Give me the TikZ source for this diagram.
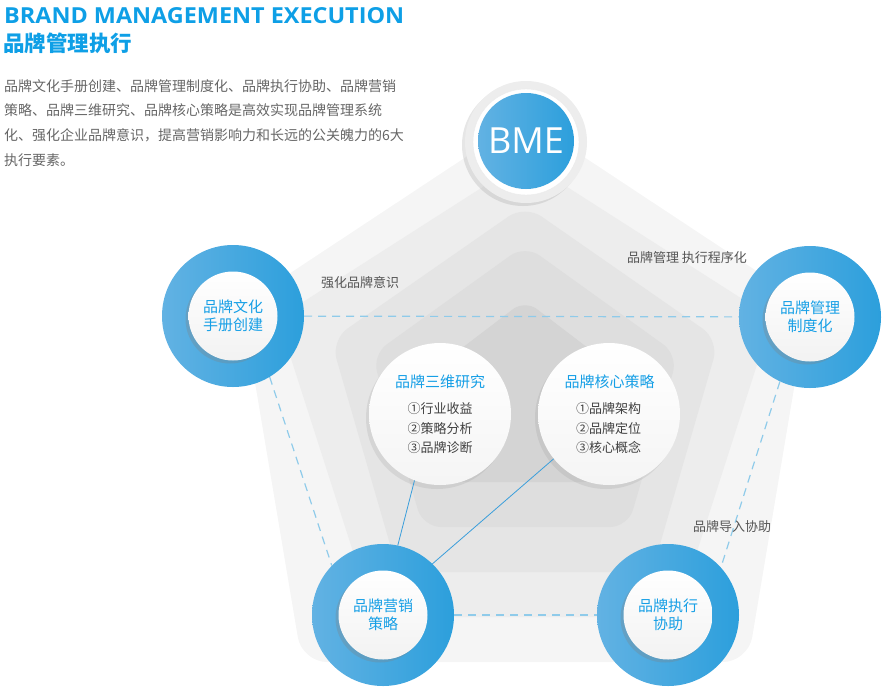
\documentclass[tikz,border=0pt]{standalone}
\usepackage{fontspec}
\usepackage{graphicx}
\setmainfont{Noto Sans CJK SC}
\newfontfamily\latin{Open Sans}
\usetikzlibrary{shadows}

\definecolor{titleblue}{HTML}{0E9FE6}
\definecolor{ringlight}{HTML}{62B2E3}
\definecolor{ringdark}{HTML}{2C9FDC}
\definecolor{txtblue}{HTML}{169FE6}
\definecolor{txtgray}{HTML}{555555}
\definecolor{dashblue}{HTML}{8FCBEA}
\definecolor{linkblue}{HTML}{3A9EDB}

\begin{document}
\begin{tikzpicture}
  [x=1pt,y=-1pt,
   ring/.style={circle,minimum size=142pt,inner sep=0pt,left color=ringlight,right color=ringdark},
   disc/.style={circle,minimum size=89pt,inner sep=0pt,top color=white,bottom color=black!5,
     drop shadow={shadow xshift=-3pt,shadow yshift=-3pt,opacity=.3},
     text=txtblue,align=center,font=\fontsize{15}{18}\selectfont},
   bigdisc/.style={circle,minimum size=142pt,inner sep=0pt,top color=white,bottom color=black!4,
     drop shadow={shadow xshift=-3pt,shadow yshift=-4pt,opacity=.15}},
   ititle/.style={inner sep=0pt,text=txtblue,font=\fontsize{15}{15}\selectfont},
   items/.style={inner sep=0pt,align=center,text=black!75,font=\fontsize{13}{19.5}\selectfont},
   note/.style={inner sep=0pt,text=txtgray,font=\fontsize{13}{13}\selectfont},
   para/.style={anchor=west,inner sep=0pt,text=black!60,font=\fontsize{14}{14}\selectfont},
   dashline/.style={dashblue,line width=1.2pt,dash pattern=on 8pt off 6pt},
   link/.style={linkblue,line width=.8pt}]
  \useasboundingbox (0,0) rectangle (883,686);

  % headings
  \node[anchor=west,inner sep=0pt,text=titleblue] (entitle) at (4,16)
    {\resizebox{400pt}{16pt}{\latin\bfseries BRAND MANAGEMENT EXECUTION}};
  \node[anchor=west,inner sep=0pt,text=titleblue,font=\fontsize{21.5}{21.5}\selectfont\bfseries] (cntitle) at (3,43) {品牌管理执行};
  \node[para] (p1) at (4,86) {品牌文化手册创建、品牌管理制度化、品牌执行协助、品牌营销};
  \node[para] (p2) at (4,110.5) {策略、品牌三维研究、品牌核心策略是高效实现品牌管理系统};
  \node[para] (p3) at (4,135) {化、强化企业品牌意识，提高营销影响力和长远的公关魄力的6大};
  \node[para] (p4) at (4,160) {执行要素。};

  % background pentagons
  \fill[black!4,rounded corners=25pt] (525,118) -- (808,305) -- (748,662) -- (302,662) -- (242,305) -- cycle;
  \fill[black!7,rounded corners=22pt] (525,160) -- (772,318) -- (676,617) -- (374,617) -- (278,318) -- cycle;
  \fill[black!10,rounded corners=20pt] (525,205) -- (719,340) -- (652,572) -- (398,572) -- (331,340) -- cycle;
  \fill[black!13,rounded corners=18pt] (525,245) -- (678,355) -- (628,527) -- (423,527) -- (372,355) -- cycle;
  \fill[black!17,rounded corners=15pt] (525,300) -- (630,380) -- (600,482) -- (450,482) -- (420,380) -- cycle;

  % outer rings
  \foreach \name/\x/\y/\txt in {wenhua/233/316/{品牌文化\\手册创建},guanli/810/317/{品牌管理\\制度化},
      yingxiao/383/615/{品牌营销\\策略},zhixing/668/615/{品牌执行\\协助}}{
    \node[ring] (\name) at (\x,\y) {};
    \node[disc] (\name-in) at (\x,\y) {\txt};
  }

  \draw[dashline] (wenhua) -- (guanli);
  \draw[dashline] (yingxiao) -- (zhixing);
  \draw[dashline] (wenhua.-59) -- (yingxiao.136);
  \draw[dashline] (guanli.245) -- (zhixing.42);

  % inner circles
  \node[bigdisc] (sanwei) at (440,414) {};
  \node[bigdisc] (hexin) at (609,414) {};
  \node[ititle] (sanwei-t) at (440,382) {品牌三维研究};
  \node[items] (sanwei-i) at (440,428.5) {①行业收益\\②策略分析\\③品牌诊断};
  \node[ititle] (hexin-t) at (609.5,382) {品牌核心策略};
  \node[items] (hexin-i) at (608.5,428.5) {①品牌架构\\②品牌定位\\③核心概念};

  \draw[link] (sanwei.-111) -- (yingxiao.78);
  \draw[link] (hexin.219) -- (yingxiao.46);

  % BME
  \node[circle,minimum size=122pt,fill=black!7,drop shadow={shadow xshift=-3pt,shadow yshift=-3pt,opacity=.2}] (bme-out) at (526,142) {};
  \node[circle,minimum size=106pt,fill=white,draw=black!8] (bme-mid) at (526,142) {};
  \node[circle,minimum size=96pt,inner sep=0pt,left color=ringlight,right color=ringdark,text=white,
    font=\latin\fontsize{36}{36}\selectfont] (bme) at (526,141) {BME};

  % labels
  \node[note] (qianghua) at (360,283) {强化品牌意识};
  \node[note] (chengxu) at (687,258) {品牌管理 执行程序化};
  \node[note] (daoru) at (732,527) {品牌导入协助};
\end{tikzpicture}
\end{document}
